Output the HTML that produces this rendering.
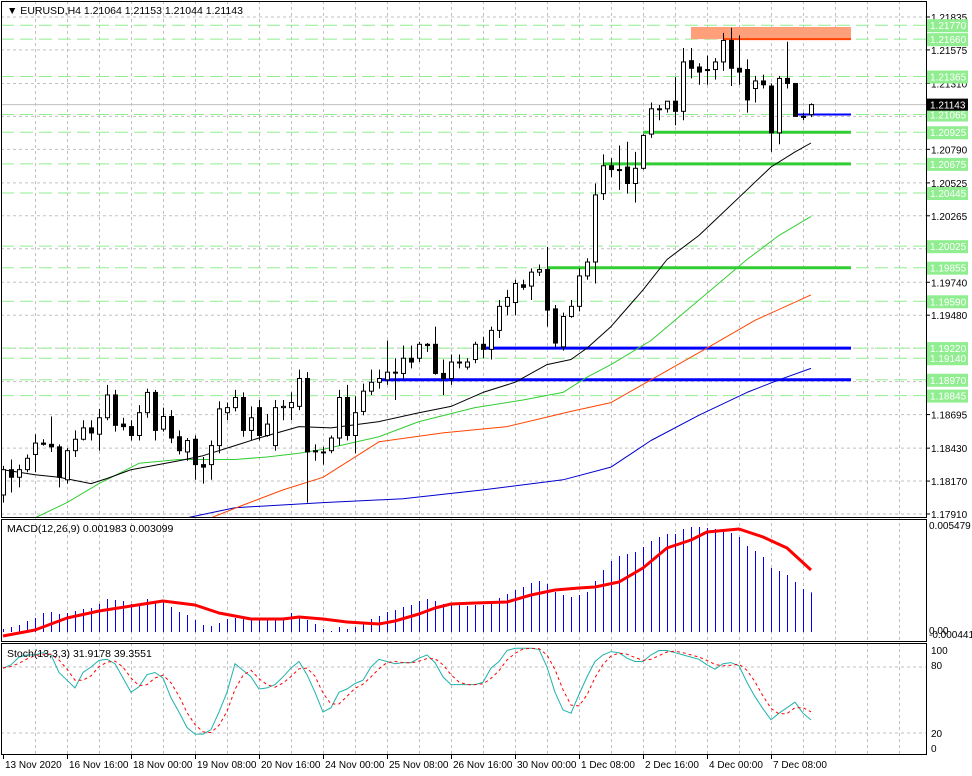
<!DOCTYPE html>
<html><head><meta charset="utf-8">
<style>
html,body{margin:0;padding:0;background:#fff;}
svg{display:block;font-family:"Liberation Sans",sans-serif;}
</style></head>
<body>
<svg id="chart" width="972" height="776" viewBox="0 0 972 776" xmlns="http://www.w3.org/2000/svg">
<defs>
<clipPath id="mainClip"><rect x="1" y="1" width="925" height="516"/></clipPath>
<clipPath id="macdClip"><rect x="1" y="520" width="925" height="121"/></clipPath>
<clipPath id="stochClip"><rect x="1" y="644" width="925" height="110"/></clipPath>
</defs>
<rect x="0" y="0" width="972" height="776" fill="#fff"/>
<g id="grid"></g>
<g id="levels"></g>
<g id="ma" clip-path="url(#mainClip)"></g>
<g id="candles" clip-path="url(#mainClip)"></g>
<g id="macd" clip-path="url(#macdClip)"></g>
<g id="stoch" clip-path="url(#stochClip)"></g>
<g id="frames"></g>
<g id="axes"></g>
<text x="7" y="14" font-size="10.5" fill="#000">▼ EURUSD,H4  1.21064 1.21153 1.21044 1.21143</text>
<text x="7" y="532" font-size="10.5" fill="#000">MACD(12,26,9) 0.001983 0.003099</text>
<text x="7" y="657" font-size="10.5" fill="#000">Stoch(13,3,3) 31.9178 39.3551</text>
</svg>
<script>
// ---- data ----
const openP=[1.1806,1.1826,1.1820,1.1826,1.1838,1.1847,1.1846,1.1844,1.1818,1.1841,1.1850,1.1859,1.1854,1.1867,1.1885,1.1862,1.1860,1.1853,1.1871,1.1887,1.1858,1.1868,1.1852,1.1840,1.1850,1.1830,1.1830,1.1845,1.1871,1.1875,1.1883,1.1857,1.1875,1.1853,1.1845,1.1875,1.1875,1.1876,1.1898,1.1841,1.1840,1.1841,1.1851,1.1883,1.1853,1.1872,1.1888,1.1895,1.1897,1.1903,1.1902,1.1914,1.1914,1.1925,1.1925,1.1902,1.1898,1.1911,1.1907,1.1913,1.1925,1.1921,1.1936,1.1955,1.1958,1.1972,1.1971,1.1982,1.1984,1.1953,1.1923,1.1947,1.1955,1.1979,1.1990,1.2044,1.2066,1.2063,1.2065,1.2052,1.2064,1.2091,1.2111,1.2111,1.2117,1.2109,1.2149,1.2144,1.2142,1.2142,1.2148,1.2165,1.2143,1.2142,1.2127,1.2133,1.2129,1.2092,1.2135,1.2131,1.2105,1.21064];
const highP=[1.1829,1.1834,1.1830,1.1838,1.1854,1.1850,1.1868,1.1846,1.1843,1.1857,1.1865,1.1865,1.1874,1.1893,1.1889,1.1867,1.1865,1.1877,1.1890,1.1889,1.1875,1.1873,1.1857,1.1851,1.1853,1.1836,1.1849,1.1880,1.1879,1.1889,1.1887,1.1876,1.1881,1.1870,1.1881,1.1881,1.1887,1.1905,1.1903,1.1846,1.1844,1.1853,1.1889,1.1893,1.1884,1.1894,1.1905,1.1905,1.1928,1.1914,1.1924,1.1924,1.1927,1.1926,1.1939,1.1913,1.1917,1.1917,1.1914,1.1927,1.1931,1.1939,1.1960,1.1968,1.1976,1.1976,1.1985,1.1988,1.2002,1.1956,1.1950,1.1960,1.1985,1.1993,1.2052,1.2075,1.2072,1.2082,1.2085,1.2077,1.2091,1.2116,1.2114,1.2117,1.2136,1.2159,1.2159,1.2147,1.2153,1.2151,1.2171,1.2175,1.2169,1.2150,1.2137,1.2138,1.2131,1.2137,1.2164,1.2131,1.2108,1.21153];
const lowP=[1.1800,1.1808,1.1812,1.1824,1.1824,1.1845,1.1840,1.1812,1.1815,1.1836,1.1849,1.1849,1.1841,1.1865,1.1856,1.1857,1.1849,1.1849,1.1867,1.1849,1.1856,1.1847,1.1838,1.1833,1.1818,1.1815,1.1818,1.1839,1.1865,1.1872,1.1852,1.1849,1.1849,1.1852,1.1841,1.1865,1.1865,1.1873,1.1800,1.1833,1.1830,1.1839,1.1845,1.1849,1.1839,1.1869,1.1885,1.1890,1.1893,1.1881,1.1897,1.1906,1.1911,1.1919,1.1901,1.1885,1.1893,1.1906,1.1905,1.1910,1.1914,1.1913,1.1930,1.1948,1.1948,1.1968,1.1960,1.1979,1.1939,1.1922,1.1920,1.1946,1.1951,1.1976,1.1973,1.2039,1.2057,1.2047,1.2044,1.2037,1.2063,1.2088,1.2102,1.2108,1.2098,1.2102,1.2135,1.2130,1.2130,1.2134,1.2141,1.2129,1.2130,1.2108,1.2116,1.2127,1.2077,1.2083,1.2127,1.2105,1.2102,1.21044];
const closeP=[1.1826,1.1820,1.1826,1.1835,1.1847,1.1846,1.1844,1.1820,1.1841,1.1850,1.1859,1.1855,1.1867,1.1885,1.1861,1.1860,1.1853,1.1871,1.1887,1.1857,1.1868,1.1851,1.1841,1.1849,1.1830,1.1828,1.1845,1.1874,1.1875,1.1883,1.1857,1.1867,1.1853,1.1862,1.1875,1.1876,1.1879,1.1898,1.1840,1.1840,1.1840,1.1851,1.1883,1.1853,1.1871,1.1888,1.1895,1.1898,1.1903,1.1903,1.1914,1.1911,1.1925,1.1924,1.1902,1.1898,1.1911,1.1911,1.1911,1.1925,1.1921,1.1936,1.1955,1.1962,1.1973,1.1970,1.1982,1.1984,1.1952,1.1926,1.1947,1.1955,1.1979,1.1990,1.2043,1.2066,1.2063,1.2063,1.2052,1.2064,1.2090,1.2111,1.2111,1.2117,1.2109,1.2148,1.2143,1.2140,1.2142,1.2148,1.2165,1.2143,1.2140,1.2118,1.2133,1.2130,1.2092,1.2135,1.2131,1.2105,1.2105,1.21143];

const maBlackIdx=[0,4,7,11,13,16,22,25,29,32,37,41,47,52,56,60,64,68,71,73,76,80,83,87,89,93,96,99,101];
const maBlackVal=[1.1826,1.1822,1.1820,1.1815,1.1819,1.1826,1.1833,1.1837,1.1845,1.1851,1.1860,1.1859,1.1864,1.1871,1.1876,1.1887,1.1895,1.1909,1.1913,1.1922,1.1939,1.1968,1.1992,1.2011,1.2023,1.2047,1.2065,1.2077,1.2084];
const maGreenIdx=[4,8,12,17,22,29,33,37,40,47,52,59,65,70,73,76,81,87,93,97,101];
const maGreenVal=[1.1788,1.1800,1.1815,1.1831,1.1834,1.1834,1.1836,1.1839,1.1842,1.1852,1.1864,1.1875,1.1881,1.1887,1.1899,1.1909,1.1928,1.1960,1.1992,1.2011,1.2026];
const maOrangeIdx=[26,30,35,40,47,55,63,71,76,81,88,94,101];
const maOrangeVal=[1.1788,1.1798,1.1810,1.1820,1.1848,1.1855,1.1860,1.1872,1.1879,1.1897,1.1922,1.1944,1.1964];
const maBlueIdx=[23,29,40,50,60,70,76,81,87,93,97,101];
const maBlueVal=[1.1788,1.1796,1.1800,1.1803,1.1810,1.1818,1.1828,1.1849,1.1869,1.1887,1.1897,1.1906];

const macdMain=[1.5,2.5,3.5,5.5,7,9.5,10,9,9.5,10.5,11.5,12,14,16.5,16,15.5,14,14,16.5,15,15,12.5,10,8.5,6,3.5,3,4.5,6.5,7,6.5,6,6,6.5,6.5,6.5,9.5,7.5,6,4,1.5,
0.5,2.5,1.5,2.5,4,6.5,8,10,11,12.5,13.5,15.5,16.5,15.5,14,13.5,14,13,13.5,13.5,14.5,17,19,21,22.5,24.5,25.5,24,20,18.5,17.5,18.5,20,25.5,31,35.5,38,
39,40,42.5,45.5,47.5,49,49,51.5,52.5,52.5,52,51.5,50.5,49.5,47.5,43,40.5,37.5,32,30.5,28.5,25,21.5,19.83];
const macdSignalIdx=[0,4,8,12,16,20,24,27,31,35,37,40,43,47,49,52,54,56,59,63,66,69,72,74,77,80,83,86,88,92,95,98,101];
const macdSignalVal=[-2,1,7,10.5,13,15.5,13.5,9.5,6.5,6.5,7.5,6.5,5,4,5.5,9,12,14,14.5,15,18.5,21,22,22.5,25,32,42,46,50,51.5,47.5,42,30.99];

const stochK=[79,82,89,91,91,93,91,75,68,61,75,80,86,87,83,70,57,62,73,75,70,52,39,25,19,19,23,39,57,83,77,71,60,61,64,71,79,85,73,57,39,43,57,60,65,68,80,87,85,83,84,84,88,91,84,71,64,64,64,64,66,79,85,95,97,97,97,96,80,57,41,38,55,71,85,91,94,93,88,85,85,91,95,95,93,91,89,87,82,78,83,84,81,66,53,42,32,38,43,48,38,31.92];

const gridPrices=[1.21835,1.21575,1.21310,1.21050,1.20790,1.20525,1.20265,1.20005,1.19740,1.19480,1.19220,1.18955,1.18695,1.18430,1.18170,1.17910];
const gridLabels=["1.21835","1.21575","1.21310","","1.20790","1.20525","1.20265","","1.19740","1.19480","","","1.18695","1.18430","1.18170","1.17910"];
const levelPrices=[1.21770,1.21660,1.21365,1.21065,1.20925,1.20675,1.20445,1.20025,1.19855,1.19590,1.19220,1.19140,1.18970,1.18845];
const timeIdx=[0,8,16,24,32,40,48,56,64,72,80,88,96];
const timeLabels=["13 Nov 2020","16 Nov 16:00","18 Nov 00:00","19 Nov 08:00","20 Nov 16:00","24 Nov 00:00","25 Nov 08:00","26 Nov 16:00","30 Nov 00:00","1 Dec 08:00","2 Dec 16:00","4 Dec 00:00","7 Dec 08:00"];
const currentPrice=1.21143;

const NS="http://www.w3.org/2000/svg";
const xOf=i=>3+8*i;
const yP=p=>17+(1.21835-p)*12662;
const yM=v=>632-v*2;
const yS=v=>755-v*1.1;
function mk(tag,attrs,parent){const e=document.createElementNS(NS,tag);for(const k in attrs)e.setAttribute(k,attrs[k]);parent.appendChild(e);return e;}
const G=id=>document.getElementById(id);

const grid=G('grid');
for(let i=4;xOf(i)<926;i+=4){
  const l=mk('line',{x1:xOf(i)+0.5,x2:xOf(i)+0.5,y1:1,y2:754,stroke:'#c0c0c0','stroke-dasharray':'3,3'},grid);
  
  
}
gridPrices.forEach(p=>{
  const l=mk('line',{x1:1,x2:926,y1:yP(p),y2:yP(p),stroke:'#c0c0c0','stroke-dasharray':'3,3'},grid);
  
  
});
[80,20].forEach(v=>{
  const l=mk('line',{x1:1,x2:926,y1:yS(v),y2:yS(v),stroke:'#c0c0c0','stroke-dasharray':'3,3'},grid);
  
  
});

const lv=G('levels');
levelPrices.forEach(p=>{
  const l=mk('line',{x1:1,x2:926,y1:yP(p),y2:yP(p),stroke:'#90ee90','stroke-dasharray':'13,6'},lv);
  
  
});
const cur=mk('line',{x1:1,x2:926,y1:yP(currentPrice),y2:yP(currentPrice),stroke:'#c0c0c0'},lv);


const zone=mk('rect',{x:691,y:yP(1.21835)+10,width:160,height:yP(1.21660)-yP(1.21835)-10,fill:'#ffa07a'},lv);


function hline(p,x1,color,w,name){
  const l=mk('line',{x1:x1,x2:851,y1:yP(p),y2:yP(p),stroke:color,'stroke-width':w},lv);
  
  
}
hline(1.21660,723,'#ff4500',2,'resistance-line');
hline(1.21065,795,'#0000ff',2,'support-line-short');
hline(1.20925,643,'#32cd32',3,'green-level-1-20925');
hline(1.20675,603,'#32cd32',3,'green-level-1-20675');
hline(1.19855,547,'#32cd32',3,'green-level-1-19855');
hline(1.19220,483,'#0000ff',3,'blue-level-1-19220');
hline(1.18970,379,'#0000ff',3,'blue-level-1-18970');

function maLine(idx,val,color,name){
  const pts=idx.map((i,k)=>xOf(i)+','+yP(val[k]).toFixed(1)).join(' ');
  const pl=mk('polyline',{points:pts,fill:'none',stroke:color,'stroke-width':1,'stroke-linejoin':'round'},G('ma'));
  
  
}
maLine(maBlueIdx,maBlueVal,'#0000cd','ma-blue');
maLine(maOrangeIdx,maOrangeVal,'#ff4500','ma-orange');
maLine(maGreenIdx,maGreenVal,'#32cd32','ma-green');
maLine(maBlackIdx,maBlackVal,'#000000','ma-black');

const cg=G('candles');
for(let i=0;i<openP.length;i++){
  const x=xOf(i),o=openP[i],c=closeP[i];
  const w=mk('line',{x1:x+0.5,x2:x+0.5,y1:yP(highP[i]),y2:yP(lowP[i]),stroke:'#000'},cg);
  
  
  const top=yP(Math.max(o,c)),bot=yP(Math.min(o,c));
  const bull=c>=o;
  const r=mk('rect',{x:x-1.5,y:top,width:4,height:Math.max(1,bot-top),fill:bull?'#fff':'#000',stroke:'#000'},cg);
  
  
}

const mg=G('macd');
macdMain.forEach((v,i)=>{
  const b=mk('line',{x1:xOf(i)+0.5,x2:xOf(i)+0.5,y1:yM(0),y2:yM(v),stroke:'#0000ff','stroke-width':1},mg);
  
  
});
const sig=mk('polyline',{points:macdSignalIdx.map((i,k)=>xOf(i)+','+yM(macdSignalVal[k]).toFixed(1)).join(' '),fill:'none',stroke:'#ff0000','stroke-width':3,'stroke-linejoin':'round'},mg);



const sg=G('stoch');
const kl=mk('polyline',{points:stochK.map((v,i)=>xOf(i)+','+yS(v).toFixed(1)).join(' '),fill:'none',stroke:'#20b2aa','stroke-width':1},sg);


const dPts=stochK.map((v,i)=>{const a=stochK.slice(Math.max(0,i-2),i+1);return xOf(i)+','+yS(a.reduce((s,t)=>s+t,0)/a.length).toFixed(1);});
const dl=mk('polyline',{points:dPts.join(' '),fill:'none',stroke:'#ff0000','stroke-width':1,'stroke-dasharray':'3,3'},sg);



const fr=G('frames');
[[1,1,925,516,'main-panel'],[1,519,925,122,'macd-panel'],[1,643,925,111,'stoch-panel']].forEach(a=>{
  const r=mk('rect',{x:a[0]+0.5,y:a[1]+0.5,width:a[2],height:a[3],fill:'none',stroke:'#000'},fr);
  
  
});

const ax=G('axes');
function txt(x,y,s,name,fill,size){
  const t=mk('text',{x:x,y:y,'font-size':size||10,fill:fill||'#000'},ax);
  t.textContent=s;
  
  
  return t;
}
gridPrices.forEach((p,k)=>{
  mk('line',{x1:926,x2:930,y1:yP(p),y2:yP(p),stroke:'#000'},ax);
  if(gridLabels[k]) txt(931,yP(p)+4,gridLabels[k],'price-tick-label');
});
levelPrices.forEach(p=>{
  const y=yP(p);
  const bg=mk('rect',{x:927,y:y-6,width:41,height:13,fill:'#90ee90'},ax);
  
  
  txt(930,y+4,p.toFixed(5),'level-price-label','#fff');
});
const cb=mk('rect',{x:927,y:yP(currentPrice)-6,width:41,height:12,fill:'#000'},ax);


txt(930,yP(currentPrice)+4,currentPrice.toFixed(5),'current-price-label','#fff');
txt(929,529,'0.005479','macd-max-label');
txt(929,638,'-0.000441','macd-min-label');
txt(929,634,'0.00','macd-zero-label');
[[100,654],[80,669],[20,737],[0,752]].forEach(a=>txt(931,a[1],String(a[0]),'stoch-tick-label'));
timeIdx.forEach((i,k)=>{
  const x=xOf(i);
  mk('line',{x1:x+0.5,x2:x+0.5,y1:754,y2:759,stroke:'#000'},ax);
  txt(x+2,768,timeLabels[k],'time-tick-label');
});
</script>
</body></html>
